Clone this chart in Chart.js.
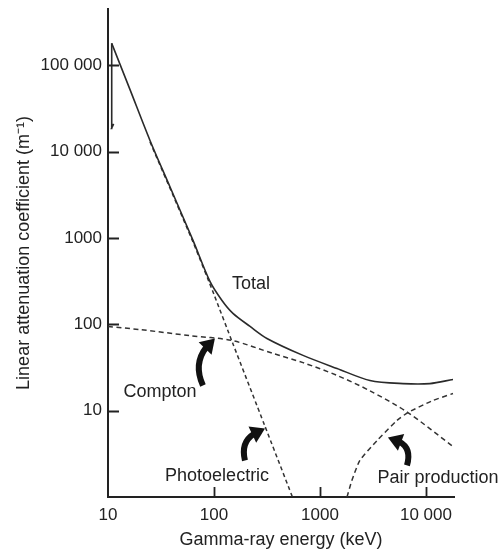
<!DOCTYPE html>
<html><head><meta charset="utf-8">
<script src="https://cdn.jsdelivr.net/npm/chart.js@4/dist/chart.umd.min.js"></script>
<style>html,body{margin:0;padding:0;background:#fff}#wrap{width:501px;height:551px}</style>
</head><body><div id="wrap"><canvas id="c" width="501" height="551"></canvas></div>
<script>
// ---- data ----
const totalEdgeE  = [11.3, 10.8, 10.84];
const totalEdgeMu = [21000, 18600, 180000];
const totalE  = [10.84, 16.1, 24.9, 38.5, 63.4, 91.6, 119, 151, 219, 316, 692, 1450, 2960, 6070, 10900, 18000];
const totalMu = [180000, 52700, 13500, 3900, 938, 314, 189, 134, 94.6, 68.7, 43.7, 30.8, 22.4, 20.6, 20.6, 23];
const photoE  = [24.9, 63.4, 100, 150, 300, 550];
const photoMu = [13000, 900, 222, 60.8, 6.8, 1];
const comptonE  = [10, 20, 59.5, 148, 361, 692, 1450, 2960, 6760, 18000];
const comptonMu = [94.6, 87, 74, 65, 46, 36, 25.6, 17, 9.5, 3.85];
const pairE  = [1800, 2000, 2380, 3450, 5330, 6760, 11600, 18000];
const pairMu = [1, 1.55, 2.65, 4.5, 7.7, 9.5, 13.1, 15.8];

const xTicks = [10, 100, 1000, 10000];
const xTickLabels = ['10', '100', '1000', '10 000'];
const yTicks = [10, 100, 1000, 10000, 100000];
const yTickLabels = ['10', '100', '1000', '10 000', '100 000'];

const labelText = ['Total', 'Compton', 'Photoelectric', 'Pair production'];
const xTitle = 'Gamma-ray energy (keV)';
const yTitle = 'Linear attenuation coefficient (m\u207B\u00B9)';

// ---- annotation anchors (data coordinates) ----
const labelAnchors = [[223, 290], [31, 16.3], [107, 1.73], [13000, 1.64]];
const arrows = [
  {base: [78.7, 19.6], tip: [102, 68.7], bend: -14},
  {base: [196, 2.65], tip: [303, 6.2], bend: -12},
  {base: [6620, 2.32], tip: [4380, 4.89], bend: 12}
];

const pts = (xs, ys) => xs.map((x, i) => ({x: x, y: ys[i]}));
const FONT = "'Liberation Sans', Arial, Helvetica, sans-serif";
const INK = '#222';

const inwardTicks = {
  id: 'inwardTicks',
  afterDraw(chart) {
    const {ctx, chartArea: a, scales: {x, y}} = chart;
    ctx.save();
    ctx.strokeStyle = INK; ctx.lineWidth = 1.8;
    ctx.beginPath();
    yTicks.forEach(v => { const py = Math.round(y.getPixelForValue(v)) + 0.5; ctx.moveTo(a.left, py); ctx.lineTo(a.left + 11, py); });
    xTicks.forEach(v => { if (v <= x.min) return; const px = Math.round(x.getPixelForValue(v)) + 0.5; ctx.moveTo(px, a.bottom); ctx.lineTo(px, a.bottom - 10); });
    ctx.stroke();
    ctx.restore();
  }
};

const annotations = {
  id: 'annotations',
  afterDatasetsDraw(chart) {
    const {ctx, scales: {x, y}} = chart;
    ctx.save();
    ctx.fillStyle = INK;
    ctx.font = '18px ' + FONT;
    ctx.textAlign = 'center'; ctx.textBaseline = 'middle';
    labelText.forEach((t, i) => {
      ctx.fillText(t, x.getPixelForValue(labelAnchors[i][0]), y.getPixelForValue(labelAnchors[i][1]));
    });
    ctx.fillStyle = '#111'; ctx.strokeStyle = '#111';
    arrows.forEach(a => {
      const bx = x.getPixelForValue(a.base[0]), by = y.getPixelForValue(a.base[1]);
      const tx = x.getPixelForValue(a.tip[0]),  ty = y.getPixelForValue(a.tip[1]);
      const dx = tx - bx, dy = ty - by, len = Math.hypot(dx, dy);
      const nx = -dy / len, ny = dx / len;
      const mx = (bx + tx) / 2 + nx * a.bend, my = (by + ty) / 2 + ny * a.bend;
      let ux = tx - mx, uy = ty - my; const ul = Math.hypot(ux, uy); ux /= ul; uy /= ul;
      const hl = 14, hw = 9;
      const hx = tx - ux * hl, hy = ty - uy * hl;
      const cx = (bx + hx) / 2 + nx * a.bend * 0.8, cy = (by + hy) / 2 + ny * a.bend * 0.8;
      ctx.lineWidth = 6; ctx.lineCap = 'butt';
      ctx.beginPath(); ctx.moveTo(bx, by); ctx.quadraticCurveTo(cx, cy, hx + ux * 1.5, hy + uy * 1.5); ctx.stroke();
      ctx.beginPath();
      ctx.moveTo(tx, ty);
      ctx.lineTo(hx - uy * hw, hy + ux * hw);
      ctx.lineTo(hx + uy * hw, hy - ux * hw);
      ctx.closePath(); ctx.fill();
    });
    ctx.restore();
  }
};

const tickFont = {family: FONT, size: 17};
const titleFont = {family: FONT, size: 18};

new Chart(document.getElementById('c'), {
  type: 'line',
  data: {
    datasets: [
      {label: 'Total (edge)', data: pts(totalEdgeE, totalEdgeMu), borderColor: '#2a2a2a', borderWidth: 1.6, tension: 0, pointRadius: 0},
      {label: 'Total', data: pts(totalE, totalMu), borderColor: '#2a2a2a', borderWidth: 1.6, tension: 0.3, pointRadius: 0},
      {label: 'Photoelectric', data: pts(photoE, photoMu), borderColor: '#333', borderWidth: 1.5, borderDash: [4, 3], tension: 0.2, pointRadius: 0},
      {label: 'Compton', data: pts(comptonE, comptonMu), borderColor: '#333', borderWidth: 1.5, borderDash: [5, 3.5], tension: 0.3, pointRadius: 0},
      {label: 'Pair production', data: pts(pairE, pairMu), borderColor: '#333', borderWidth: 1.5, borderDash: [5, 3.5], tension: 0.2, pointRadius: 0}
    ]
  },
  options: {
    responsive: false, animation: false,
    layout: {padding: {top: 9, right: 47, left: 0, bottom: 0}},
    plugins: {legend: {display: false}, tooltip: {enabled: false}},
    scales: {
      x: {
        type: 'logarithmic', min: 10, max: 18400,
        afterBuildTicks: s => { s.ticks = xTicks.map(v => ({value: v})); },
        afterFit: s => { s.height = 54; s.paddingLeft = 0; s.paddingRight = 0; },
        grid: {display: true, drawOnChartArea: false, drawTicks: false},
        border: {display: true, color: INK, width: 2},
        ticks: {padding: 8, color: INK, font: tickFont, maxRotation: 0, autoSkip: false,
                callback: v => xTickLabels[xTicks.indexOf(v)]},
        title: {display: true, text: xTitle, color: INK, font: titleFont, padding: {top: 0, bottom: 0}}
      },
      y: {
        type: 'logarithmic', min: 1, max: 450000,
        afterBuildTicks: s => { s.ticks = yTicks.map(v => ({value: v})); },
        afterFit: s => { s.width = 108; s.paddingTop = 0; s.paddingBottom = 0; },
        grid: {display: true, drawOnChartArea: false, drawTicks: false},
        border: {display: true, color: INK, width: 2},
        ticks: {padding: 6, color: INK, font: tickFont, autoSkip: false,
                callback: v => yTickLabels[yTicks.indexOf(v)]},
        title: {display: true, text: yTitle, color: INK, font: titleFont, padding: {top: 13, bottom: 0}}
      }
    }
  },
  plugins: [inwardTicks, annotations]
});
</script></body></html>
